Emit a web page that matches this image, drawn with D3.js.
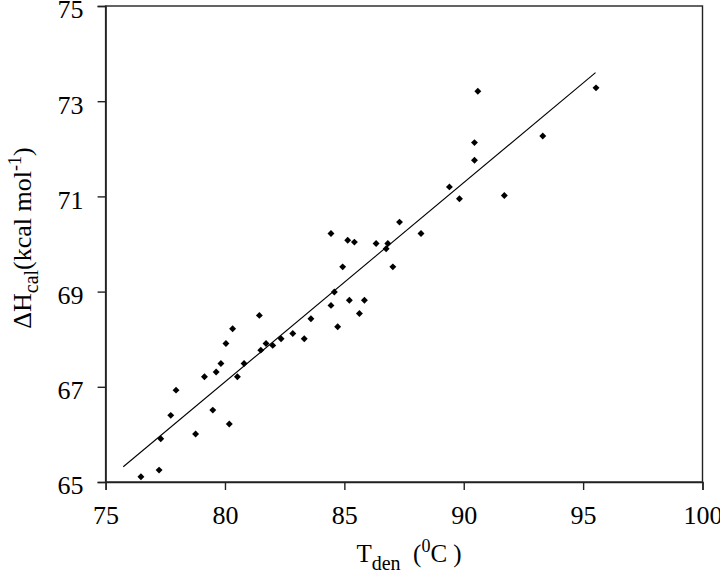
<!DOCTYPE html>
<html>
<head>
<meta charset="utf-8">
<script src="https://cdn.jsdelivr.net/npm/d3@7"></script>
<style>
  body { margin: 0; background: #fff; }
  svg { display: block; font-family: "Liberation Serif", "Times New Roman", serif; }
</style>
</head>
<body>
<svg id="chart" width="720" height="577"></svg>
<script>
// Denaturation temperature (deg C) and calorimetric enthalpy (kcal/mol)
const tDen = [
  76.48, 77.24, 77.31, 77.73, 77.95, 78.77, 79.14, 79.49, 79.63, 79.83,
  80.04, 80.18, 80.32, 80.52, 80.80, 81.44, 81.50, 81.72, 82.00, 82.35,
  82.84, 83.32, 83.60, 84.72, 84.44, 84.58, 85.21, 85.63, 85.84, 84.93,
  84.44, 85.14, 85.42, 86.33, 86.82, 86.75, 87.03, 87.31, 88.21, 89.40,
  89.82, 90.45, 91.70, 90.59, 90.45, 93.31, 95.54
];
const dHcal = [
  65.11, 65.25, 65.91, 66.40, 66.93, 66.01, 67.21, 66.51, 67.31, 67.49,
  67.91, 66.22, 68.22, 67.21, 67.49, 68.50, 67.77, 67.91, 67.87, 68.01,
  68.12, 68.01, 68.43, 68.26, 68.71, 68.99, 68.82, 68.54, 68.82, 69.52,
  70.22, 70.08, 70.04, 70.01, 70.01, 69.90, 69.52, 70.46, 70.22, 71.20,
  70.95, 71.76, 71.02, 73.21, 72.13, 72.27, 73.28
];
// end points of the regression line
const fitX = [75.74, 95.52];
const fitY = [65.32, 73.60];

const xTicks = [75, 80, 85, 90, 95, 100];
const yTicks = [65, 67, 69, 71, 73, 75];

const svg = d3.select("#chart");
const plotLeft = 105.6, plotRight = 702.5, plotTop = 6, plotBottom = 482;

const x = d3.scaleLinear().domain([75, 100]).range([plotLeft, plotRight]);
const y = d3.scaleLinear().domain([65, 75]).range([plotBottom, plotTop]);

const axisColor = "#222";
const fontFamily = '"Liberation Serif", "Times New Roman", serif';

// Frame (top and right edges)
svg.append("rect")
  .attr("x", plotLeft)
  .attr("y", plotTop)
  .attr("width", plotRight - plotLeft)
  .attr("height", plotBottom - plotTop)
  .attr("fill", "none")
  .attr("stroke", axisColor)
  .attr("stroke-width", 1.4);

// X axis
const gx = svg.append("g")
  .attr("transform", `translate(0,${plotBottom})`)
  .call(d3.axisBottom(x).tickValues(xTicks).tickSize(8).tickPadding(16).tickFormat(d3.format("d")));

// Y axis
const gy = svg.append("g")
  .attr("transform", `translate(${plotLeft},0)`)
  .call(d3.axisLeft(y).tickValues(yTicks).tickSize(8).tickPadding(14).tickFormat(d3.format("d")));

[gx, gy].forEach((g) => {
  g.attr("font-family", fontFamily).attr("font-size", 26);
  g.selectAll("path, line").attr("stroke", axisColor).attr("stroke-width", 1.4);
  g.selectAll("text").attr("fill", "#000");
});
// labels sit a little below their ticks in the original
gy.selectAll("text").attr("dy", "0.46em");

// Regression line
svg.append("line")
  .attr("x1", x(fitX[0]))
  .attr("y1", y(fitY[0]))
  .attr("x2", x(fitX[1]))
  .attr("y2", y(fitY[1]))
  .attr("stroke", "#000")
  .attr("stroke-width", 1.1);

// Data points (diamonds)
const diamond = d3.symbol().type(d3.symbolSquare).size(24);
svg.selectAll(".pt")
  .data(tDen.map((t, i) => ({ t, h: dHcal[i] })))
  .enter()
  .append("path")
  .attr("class", "pt")
  .attr("d", diamond)
  .attr("transform", (d) => `translate(${x(d.t)},${y(d.h)}) rotate(45)`)
  .attr("fill", "#000");

// Y axis label
const yLabel = svg.append("text")
  .attr("transform", "translate(31,238) rotate(-90)")
  .attr("text-anchor", "middle")
  .attr("font-family", fontFamily)
  .attr("font-size", 26)
  .attr("fill", "#000");
yLabel.append("tspan").text("ΔH");
yLabel.append("tspan").attr("dy", 7).attr("font-size", 20).text("cal");
yLabel.append("tspan").attr("dy", -7).text("(kcal mol");
yLabel.append("tspan").attr("dy", -10).attr("font-size", 18).text("-1");
yLabel.append("tspan").attr("dy", 10).text(")");

// X axis label
const xLabel = svg.append("text")
  .attr("x", 409)
  .attr("y", 562)
  .attr("text-anchor", "middle")
  .attr("font-family", fontFamily)
  .attr("font-size", 25)
  .attr("fill", "#000");
xLabel.append("tspan").text("T");
xLabel.append("tspan").attr("dy", 8).attr("font-size", 20).text("den");
xLabel.append("tspan").attr("dy", -8).attr("xml:space", "preserve").text("  (");
xLabel.append("tspan").attr("dy", -10).attr("font-size", 18).text("0");
xLabel.append("tspan").attr("dy", 10).attr("xml:space", "preserve").text("C )");
</script>
</body>
</html>
